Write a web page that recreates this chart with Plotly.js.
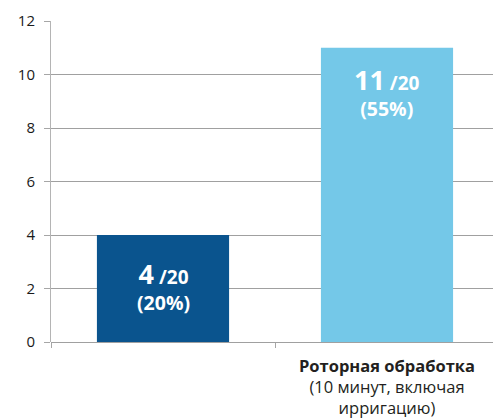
<!DOCTYPE html>
<html><head><meta charset="utf-8">
<script src="https://cdn.plot.ly/plotly-3.0.1.min.js"></script>
<style>html,body{margin:0;padding:0;overflow:hidden;background:#fff}#c{width:499px;height:419px}</style>
</head><body><div id="c"></div>
<script>
const categories = ['Контроль', 'Роторная обработка'];
const tickLabels = ['', '<b>Роторная обработка</b><br>(10 минут, включая<br>ирригацию)'];
const values = [4, 11];
const totals = [20, 20];
const percents = [20, 55];
const colors = ['#0a548e', '#74c8e8'];

const traces = categories.map((c, i) => ({
  type: 'bar',
  x: [c],
  y: [values[i]],
  width: 0.59,
  marker: {color: colors[i]},
  hoverinfo: 'none',
  showlegend: false
}));

const labelText = i => '<b><span style="font-size:27px">' + values[i] + '</span><span style="font-size:19px"> /' + totals[i] + '</span></b><br><b><span style="font-size:19.5px">(' + percents[i] + '%)</span></b>';

const annotations = [
  {x: categories[0], y: values[0] / 2, yanchor: 'middle', yshift: 3,
   text: labelText(0), showarrow: false,
   font: {family: 'Open Sans, sans-serif', size: 20, color: '#ffffff'}},
  {x: categories[1], y: values[1], yanchor: 'top', yshift: -11,
   text: labelText(1), showarrow: false,
   font: {family: 'Open Sans, sans-serif', size: 20, color: '#ffffff'}}
];

Plotly.newPlot('c', traces, {
  width: 499, height: 419,
  margin: {l: 51, r: 0, t: 21, b: 77},
  barmode: 'overlay',
  paper_bgcolor: '#fff', plot_bgcolor: '#fff',
  font: {family: 'Open Sans, sans-serif', color: '#231f20'},
  annotations: annotations,
  xaxis: {
    type: 'category',
    tickmode: 'array', tickvals: categories, ticktext: tickLabels,
    tickson: 'boundaries', ticks: 'outside', ticklen: 5, tickcolor: '#a6a6a6',
    ticklabelstandoff: 12,
    showline: false, showgrid: false, zeroline: false,
    tickfont: {size: 16.5, color: '#231f20'},
    range: [-0.5, 1.5], fixedrange: true
  },
  yaxis: {
    range: [0, 12], tickvals: [0, 2, 4, 6, 8, 10, 12],
    showgrid: true, gridcolor: '#a0a0a0', gridwidth: 1,
    zeroline: true, zerolinecolor: '#a0a0a0', zerolinewidth: 1,
    showline: true, linecolor: '#b4b4b4', linewidth: 1,
    ticks: 'outside', ticklen: 6, tickcolor: '#a6a6a6',
    ticklabelstandoff: 6,
    tickfont: {size: 15, color: '#1a1a1a'},
    fixedrange: true
  }
}, {displayModeBar: false, staticPlot: true});
</script></body></html>
